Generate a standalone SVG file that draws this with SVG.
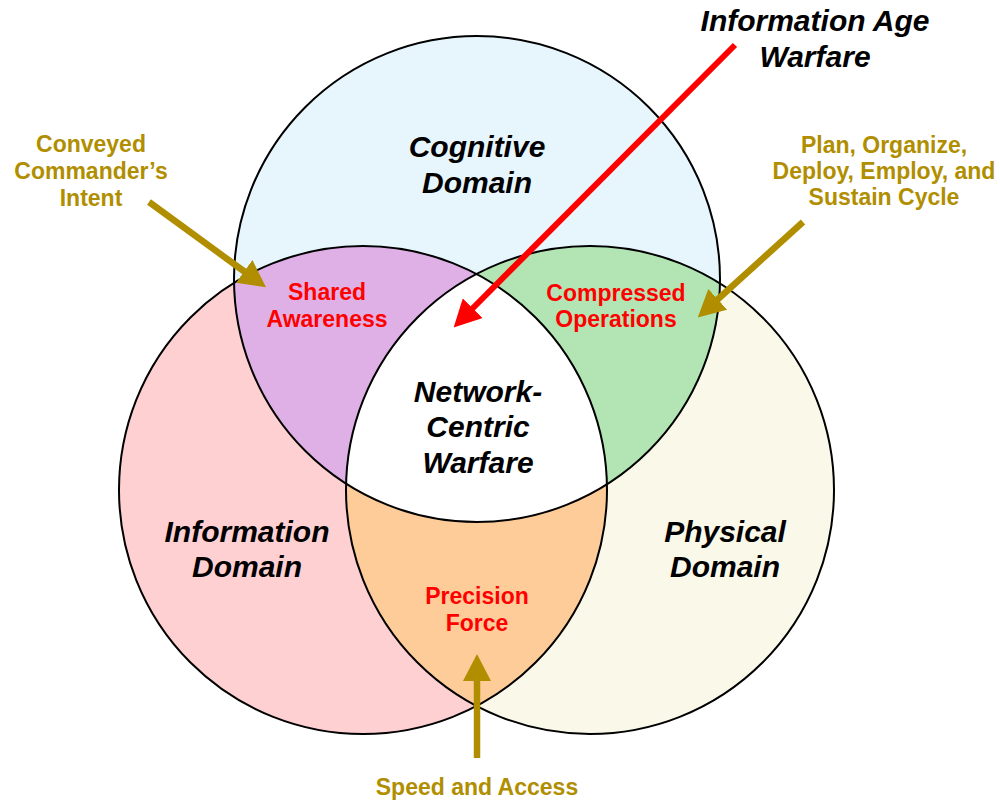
<svg xmlns="http://www.w3.org/2000/svg" width="1000" height="800" viewBox="0 0 1000 800">
  <style>
    .outline { fill: none; stroke: #000; stroke-width: 2; }
    .title { font-family: "Liberation Sans", Arial, sans-serif; font-weight: bold; font-style: italic; font-size: 30px; fill: #000; text-anchor: middle; }
    .zone { font-family: "Liberation Sans", Arial, sans-serif; font-weight: bold; font-size: 23px; fill: #FF0000; text-anchor: middle; }
    .note { font-family: "Liberation Sans", Arial, sans-serif; font-weight: bold; font-size: 23px; fill: #B08E00; text-anchor: middle; }
    .red-arrow { stroke: #FF0000; stroke-width: 6; fill: none; }
    .gold-arrow { stroke: #B08E00; stroke-width: 6.5; fill: none; }
  </style>
  <defs>
    <clipPath id="clipC"><circle cx="477" cy="279" r="243"/></clipPath>
    <clipPath id="clipI"><circle cx="363" cy="490" r="244"/></clipPath>
    <clipPath id="clipP"><circle cx="590" cy="490" r="244"/></clipPath>
    <marker id="headRed" viewBox="0 -14 27 28" refX="1" refY="0" markerWidth="27" markerHeight="28" markerUnits="userSpaceOnUse" orient="auto">
      <path d="M0,-14 L27,0 L0,14 Z" fill="#FF0000"/>
    </marker>
    <marker id="headGold" viewBox="0 -14 27 28" refX="1" refY="0" markerWidth="27" markerHeight="28" markerUnits="userSpaceOnUse" orient="auto">
      <path d="M0,-14 L27,0 L0,14 Z" fill="#B08E00"/>
    </marker>
  </defs>

  <g id="information-domain">
    <circle cx="363" cy="490" r="244" fill="#FFD0D1"/>
  </g>
  <g id="physical-domain">
    <circle cx="590" cy="490" r="244" fill="#FAF9E9"/>
  </g>
  <g id="cognitive-domain">
    <circle cx="477" cy="279" r="243" fill="#E7F6FD"/>
  </g>

  <g id="shared-awareness">
    <g clip-path="url(#clipC)"><circle cx="363" cy="490" r="244" fill="#DEB0E6"/></g>
  </g>
  <g id="compressed-operations">
    <g clip-path="url(#clipC)"><circle cx="590" cy="490" r="244" fill="#B2E5B3"/></g>
  </g>
  <g id="precision-force">
    <g clip-path="url(#clipI)"><circle cx="590" cy="490" r="244" fill="#FECC99"/></g>
  </g>
  <g id="network-centric-warfare">
    <g clip-path="url(#clipC)"><g clip-path="url(#clipI)"><circle cx="590" cy="490" r="244" fill="#FFFFFF"/></g></g>
  </g>

  <g id="outlines">
    <circle class="outline" cx="477" cy="279" r="243"/>
    <circle class="outline" cx="363" cy="490" r="244"/>
    <circle class="outline" cx="590" cy="490" r="244"/>
  </g>

  <g id="labels">
    <text class="title" x="477" y="157">Cognitive</text>
    <text class="title" x="477" y="193">Domain</text>
    <text class="title" x="247" y="542">Information</text>
    <text class="title" x="247" y="577">Domain</text>
    <text class="title" x="725" y="542">Physical</text>
    <text class="title" x="725" y="577">Domain</text>
    <text class="title" x="478" y="402">Network-</text>
    <text class="title" x="478" y="437">Centric</text>
    <text class="title" x="478" y="473">Warfare</text>
    <text class="zone" x="327" y="300">Shared</text>
    <text class="zone" x="327" y="327">Awareness</text>
    <text class="zone" x="616" y="301">Compressed</text>
    <text class="zone" x="616" y="327">Operations</text>
    <text class="zone" x="477" y="604">Precision</text>
    <text class="zone" x="477" y="631">Force</text>
  </g>

  <g id="external-labels">
    <g id="information-age-warfare">
      <text class="title" x="815" y="31">Information Age</text>
      <text class="title" x="815" y="67">Warfare</text>
    </g>
    <g id="conveyed-intent">
      <text class="note" x="91" y="152">Conveyed</text>
      <text class="note" x="91" y="179">Commander’s</text>
      <text class="note" x="91" y="206">Intent</text>
    </g>
    <g id="plan-cycle">
      <text class="note" x="884" y="153">Plan, Organize,</text>
      <text class="note" x="884" y="179">Deploy, Employ, and</text>
      <text class="note" x="884" y="205">Sustain Cycle</text>
    </g>
    <g id="speed-access">
      <text class="note" x="477" y="795">Speed and Access</text>
    </g>
  </g>

  <g id="connectors">
    <line class="red-arrow" x1="735" y1="45" x2="472" y2="309" marker-end="url(#headRed)"/>
    <line class="gold-arrow" x1="149" y1="202" x2="245" y2="272" marker-end="url(#headGold)"/>
    <line class="gold-arrow" x1="803" y1="222" x2="717" y2="300" marker-end="url(#headGold)"/>
    <line class="gold-arrow" x1="477" y1="758" x2="477" y2="680" marker-end="url(#headGold)"/>
  </g>
</svg>
